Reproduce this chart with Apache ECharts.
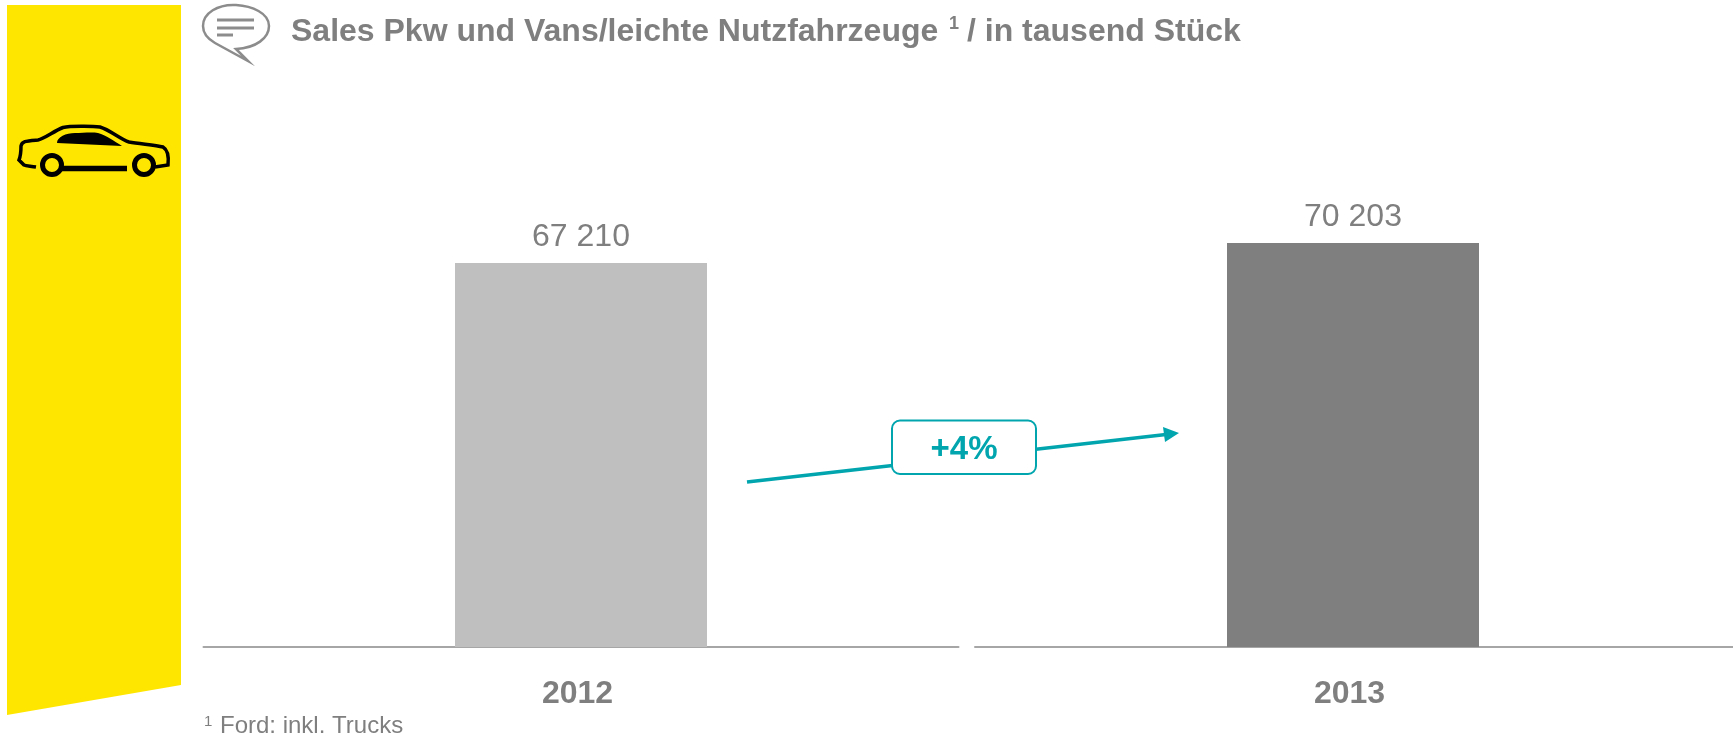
<!DOCTYPE html>
<html><head><meta charset="utf-8">
<style>html,body{margin:0;padding:0;background:#fff}#c{width:1733px;height:737px}</style>
<script src="https://cdn.jsdelivr.net/npm/echarts@6/dist/echarts.min.js"></script>
</head><body><div id="c"></div>
<script>
const years = ['2012', '2013'];
const sales = [67210, 70203];
const barColors = ['#BFBFBF', '#7F7F7F'];
const titleStart = 'Sales Pkw und Vans/leichte Nutzfahrzeuge';
const titleEnd = '/ in tausend Stück';
const changeLabel = '+4%';
const footnote = 'Ford: inkl. Trucks';
const FONT = '"Liberation Sans", Arial, sans-serif';
const GREY = '#7F7F7F', TEAL = '#00A5AE';
const fmt = v => String(v).replace(/\B(?=(\d{3})+$)/g, ' ');

const carBody = 'M36 167 C30 166 26 166 24 165 L19 160 C21 155 21 148 21 146 C22 141 26 141 38 140 C44 139 54 131 63 127.5 C70 126 92 126 100 127 C110 130 120 139 129 142 C140 144 155 145 163 147 C168 150 169 156 168 165 L155 167';
const carWin = 'M57 143 C57 137 66 133 75 133 C82 133 92 132 98 133 C106 135 114 141 122 146 Z';
const bubble = 'M236 5 C218 4 203 13 203 26 C203 34 208 39 215 43 L248 61 L236 49 C256 48 269 38 269 26 C269 13 252 6 236 5 Z';
echarts.graphic.registerShape('carBody', echarts.graphic.extendPath(carBody));
echarts.graphic.registerShape('carWin', echarts.graphic.extendPath(carWin));
echarts.graphic.registerShape('bubble', echarts.graphic.extendPath(bubble));

const chart = echarts.init(document.getElementById('c'), null, {renderer: 'canvas'});
const gridTop = 100, gridH = 547;
const mkAxis = (i) => ({
  type: 'category', gridIndex: i, data: [years[i]],
  axisTick: {show: false},
  axisLine: {show: true, lineStyle: {color: '#A6A6A6', width: 2}},
  axisLabel: {color: GREY, fontFamily: FONT, fontWeight: 'bold', fontSize: 32, margin: 31, padding: [0, 7, 0, 0]}
});
const mkY = (i) => ({type: 'value', gridIndex: i, min: 9744, max: 91605, show: false});
const mkSeries = (i) => ({
  type: 'bar', xAxisIndex: i, yAxisIndex: i, data: [sales[i]], barWidth: 252,
  itemStyle: {color: barColors[i]}, silent: true,
  label: {show: true, position: 'top', distance: 10, color: GREY, fontFamily: FONT, fontSize: 32, formatter: p => fmt(p.value)}
});

chart.setOption({
  animation: false,
  backgroundColor: '#fff',
  grid: [
    {left: 203.5, width: 755, top: gridTop, height: gridH},
    {left: 975, width: 756, top: gridTop, height: gridH}
  ],
  xAxis: [mkAxis(0), mkAxis(1)],
  yAxis: [mkY(0), mkY(1)],
  series: [mkSeries(0), mkSeries(1)],
  graphic: {elements: [
    {type: 'polygon', z: 0, shape: {points: [[7, 5], [181, 5], [181, 685], [7, 715]]}, style: {fill: '#FFE600'}},
    {type: 'carBody', z: 5, style: {fill: 'none', stroke: '#000', lineWidth: 3.5}},
    {type: 'carWin', z: 5, style: {fill: '#000'}},
    {type: 'line', z: 5, shape: {x1: 62, y1: 168.5, x2: 127, y2: 168.5}, style: {stroke: '#000', lineWidth: 5.5}},
    {type: 'circle', z: 6, shape: {cx: 52, cy: 165, r: 9.5}, style: {fill: '#FFE600', stroke: '#000', lineWidth: 5}},
    {type: 'circle', z: 6, shape: {cx: 144, cy: 165, r: 9.5}, style: {fill: '#FFE600', stroke: '#000', lineWidth: 5}},
    {type: 'line', z: 6, shape: {x1: 1733, y1: 647, x2: 1731, y2: 647}, style: {stroke: '#A6A6A6', lineWidth: 2}},
    {type: 'bubble', z: 5, style: {fill: '#fff', stroke: '#8C8C8C', lineWidth: 2.5}},
    {type: 'line', z: 5, shape: {x1: 217, y1: 20, x2: 254, y2: 20}, style: {stroke: '#8C8C8C', lineWidth: 3}},
    {type: 'line', z: 5, shape: {x1: 217, y1: 28, x2: 254, y2: 28}, style: {stroke: '#8C8C8C', lineWidth: 3}},
    {type: 'line', z: 5, shape: {x1: 217, y1: 35, x2: 233, y2: 35}, style: {stroke: '#8C8C8C', lineWidth: 3}},
    {type: 'text', z: 5, x: 291, y: 32, style: {text: titleStart, verticalAlign: 'middle', fontFamily: FONT, fontWeight: 'bold', fontSize: 32, fill: GREY}},
    {type: 'text', z: 5, x: 949, y: 24, style: {text: '1', verticalAlign: 'middle', fontFamily: FONT, fontWeight: 'bold', fontSize: 18, fill: GREY}},
    {type: 'text', z: 5, x: 967, y: 32, style: {text: titleEnd, verticalAlign: 'middle', fontFamily: FONT, fontWeight: 'bold', fontSize: 32, fill: GREY}},
    {type: 'line', z: 5, shape: {x1: 747, y1: 482, x2: 1166, y2: 434.5}, style: {stroke: TEAL, lineWidth: 3.5}},
    {type: 'polygon', z: 5, shape: {points: [[1179, 433], [1163, 427], [1165, 442]]}, style: {fill: TEAL}},
    {type: 'rect', z: 6, shape: {x: 892, y: 420.5, width: 144, height: 53.5, r: 8}, style: {fill: '#fff', stroke: TEAL, lineWidth: 2}},
    {type: 'text', z: 7, x: 964, y: 450, style: {text: changeLabel, align: 'center', verticalAlign: 'middle', fontFamily: FONT, fontWeight: 'bold', fontSize: 33, fill: TEAL}},
    {type: 'text', z: 5, left: 204, top: 714, style: {text: '1', fontFamily: FONT, fontSize: 15, fill: GREY}},
    {type: 'text', z: 5, left: 220, top: 714.5, style: {text: footnote, fontFamily: FONT, fontSize: 24, fill: GREY}}
  ]}
});
</script></body></html>
